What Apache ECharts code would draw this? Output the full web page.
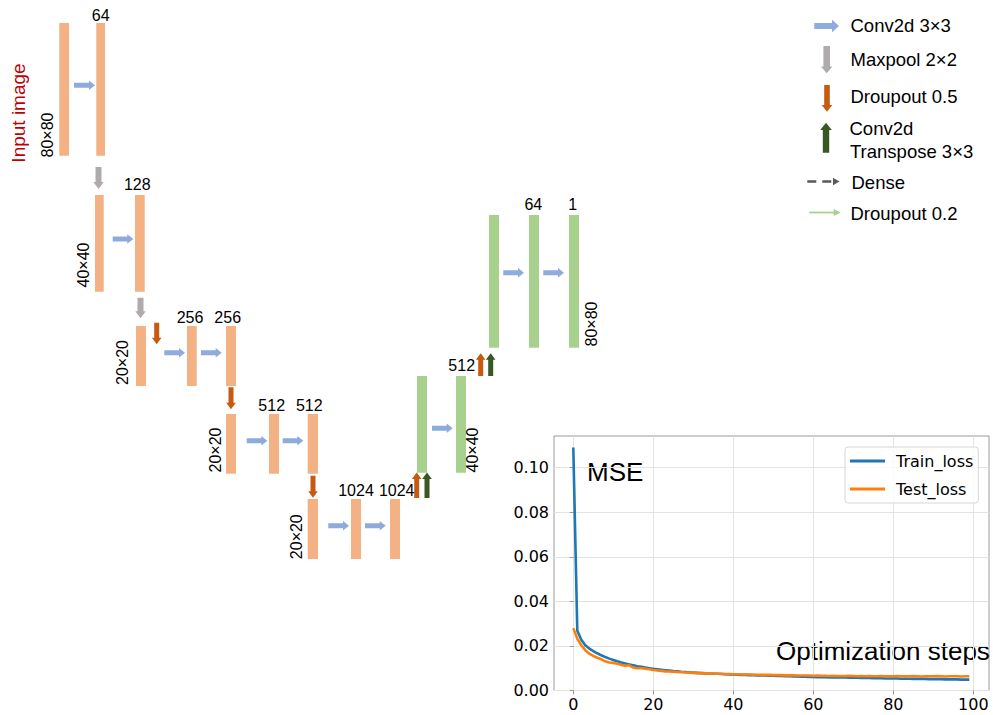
<!DOCTYPE html>
<html><head><meta charset="utf-8">
<script src="https://cdn.jsdelivr.net/npm/echarts@6/dist/echarts.min.js"></script>
<style>html,body{margin:0;padding:0;background:#fff}#c{width:993px;height:715px}</style>
</head><body><div id="c"></div>
<script>
// ---------------- loss curve data ----------------
const seriesNames = ['Train_loss', 'Test_loss'];
const trainLoss = [
0.1090,0.0268,0.0228,0.0203,0.0188,0.0177,0.0167,0.0158,0.0150,0.0143,
0.0137,0.0131,0.0126,0.0121,0.0117,0.0113,0.0109,0.0106,0.0103,0.0100,
0.0097,0.0095,0.0093,0.0091,0.0089,0.0087,0.0086,0.0084,0.0083,0.0082,
0.0080,0.0079,0.0078,0.0077,0.0076,0.0075,0.0075,0.0074,0.0073,0.0072,
0.0072,0.0071,0.0070,0.0070,0.0069,0.0069,0.0068,0.0067,0.0067,0.0066,
0.0066,0.0065,0.0065,0.0064,0.0064,0.0063,0.0063,0.0062,0.0062,0.0061,
0.0061,0.0060,0.0060,0.0060,0.0059,0.0059,0.0058,0.0058,0.0058,0.0057,
0.0057,0.0057,0.0056,0.0056,0.0056,0.0055,0.0055,0.0055,0.0054,0.0054,
0.0054,0.0054,0.0053,0.0053,0.0053,0.0052,0.0052,0.0052,0.0052,0.0051,
0.0051,0.0051,0.0051,0.0050,0.0050,0.0050,0.0050,0.0049,0.0049,0.0049];
const testLoss = [
0.0280,0.0232,0.0203,0.0181,0.0165,0.0155,0.0147,0.0140,0.0131,0.0126,
0.0124,0.0120,0.0115,0.0111,0.0113,0.0103,0.0100,0.0100,0.0098,0.0095,
0.0092,0.0090,0.0088,0.0086,0.0085,0.0084,0.0083,0.0082,0.0081,0.0080,
0.0079,0.0078,0.0078,0.0077,0.0076,0.0076,0.0075,0.0075,0.0074,0.0074,
0.0073,0.0073,0.0072,0.0072,0.0072,0.0071,0.0071,0.0070,0.0070,0.0070,
0.0069,0.0069,0.0069,0.0068,0.0068,0.0068,0.0067,0.0067,0.0067,0.0067,
0.0066,0.0067,0.0066,0.0066,0.0065,0.0066,0.0065,0.0065,0.0065,0.0066,
0.0065,0.0064,0.0065,0.0064,0.0065,0.0064,0.0064,0.0065,0.0064,0.0064,
0.0064,0.0065,0.0064,0.0064,0.0064,0.0065,0.0064,0.0063,0.0064,0.0064,
0.0064,0.0065,0.0064,0.0063,0.0064,0.0064,0.0064,0.0063,0.0064,0.0064];
const yTickValues = [0, 0.02, 0.04, 0.06, 0.08, 0.10];
const xTickValues = [0, 20, 40, 60, 80, 100];
const plotTexts = ['MSE', 'Optimization steps'];

// ---------------- network diagram data (diagram units) ----------------
// layer blocks: [x0, x1, y0, y1]
const layerBlocks = [
[59.3,69,23,155.7],[96.3,105,23,155.7],
[95,103.7,195,291.7],[135,144.7,195,291.7],
[136,146,326,386],[187,196.7,326,386],[226,236,326,386],
[226,236,414,473.7],[269,279,414,473.7],[307.7,318,414,473.7],
[307.7,318,499,559],[351,361,499,559],[390,400,499,559],
[417,427,376,472.7],[456,466,376,472.7],
[489,499,215,347.7],[529,539,215,347.7],[569,579,215,347.7]];
const layerKinds = ['enc','enc','enc','enc','enc','enc','enc','enc','enc','enc','enc','enc','enc',
'dec','dec','dec','dec','dec'];
// operation arrows: [x0,y0,x1,y1] tail -> tip
const opArrows = [
[74,85.3,95,85.3],[112.7,239,133.3,239],[164.3,352.7,185,352.7],[201,352.7,221.7,352.7],
[246.7,440.7,267.3,440.7],[282.7,440.7,303.3,440.7],[328.3,525.7,349,525.7],[365,525.7,385.7,525.7],
[432,428.3,452.7,428.3],[503.3,272.7,524,272.7],[543.3,272.7,564,272.7],
[98.5,167,98.5,189],[140.5,297.7,140.5,318.3],
[156.7,322.7,156.7,344.3],[231,387.3,231,409.3],[313,475.7,313,497.7],
[416.7,498,416.7,472.5],[480.7,376,480.7,353.3],
[427,498,427,472.5],[490.7,376,490.7,353.3]];
const opArrowKinds = ['conv','conv','conv','conv','conv','conv','conv','conv','conv','conv','conv',
'pool','pool','drop','drop','drop','drop','drop','trans','trans'];
const channelLabels = ['64','128','256','256','512','512','1024','1024','512','64','1'];
const channelLabelPos = [[100.7,15.3],[137.3,184.3],[190,317.2],[227.7,317.2],[271.7,405.5],[309.3,405.5],
[356,490.8],[396.7,490.8],[461.7,365.8],[533.3,204.2],[572.7,204.2]];
const sizeLabels = ['80×80','40×40','20×20','20×20','20×20','40×40','80×80'];
const sizeLabelPos = [[47.7,135],[83.3,265],[122.3,362.5],[215,450],[296.7,536.7],[472.8,450],[591.3,324]];
const inputLabel = ['Input image'];
const inputLabelPos = [[18.3,113]];
// key
const keyArrows = [[814.3,26,839,26],[826.7,46,826.7,73.3],[827,85,827,111.7],[826,152.7,826,122.7],
[807.3,181.5,839.5,181.5],[809.3,212.5,840.7,212.5]];
const keyArrowKinds = ['conv','pool','drop','trans','dense','drop2'];
const keyTexts = ['Conv2d 3×3','Maxpool 2×2','Droupout 0.5','Conv2d','Transpose 3×3','Dense','Droupout 0.2'];
const keyTextPos = [[850.5,25],[850.5,59.7],[850.5,96.7],[849.5,128.3],[850,151.7],[851.5,182],[850.5,213.3]];

// ---------------- styles ----------------
const COL = {enc:'#F4B183', dec:'#A9D18E', conv:'#8FAADC', pool:'#AFABAB', drop:'#C55A11', trans:'#385723',
  dense:'#595959', drop2:'#A9D18E'};
const ARROW_SMALL = {conv:[2.5,4.8,6], pool:[3,5.2,7], drop:[2.5,4.8,6.5], trans:[2.5,4.8,6.5]};
const ARROW_KEY = {conv:[3,6.3,7], pool:[3.3,5.7,6.7], drop:[2.8,5.3,6.7], trans:[3.2,5.8,7.3]};
const DIAG_FONT = '"Liberation Sans", Arial, sans-serif';
const PLOT_FONT = '"DejaVu Sans", sans-serif';

function arrowPoints(p0, p1, s, h, L) {
  const dx = p1[0]-p0[0], dy = p1[1]-p0[1];
  const len = Math.sqrt(dx*dx+dy*dy);
  const ux = dx/len, uy = dy/len, nx = -uy, ny = ux;
  const kx = p1[0]-ux*L, ky = p1[1]-uy*L;
  return [[p0[0]+nx*s,p0[1]+ny*s],[kx+nx*s,ky+ny*s],[kx+nx*h,ky+ny*h],[p1[0],p1[1]],
    [kx-nx*h,ky-ny*h],[kx-nx*s,ky-ny*s],[p0[0]-nx*s,p0[1]-ny*s]];
}
function arrowRender(kinds, sizes) {
  return function(params, api) {
    const k = kinds[params.dataIndex];
    const p0 = api.coord([api.value(0), api.value(1)]);
    const p1 = api.coord([api.value(2), api.value(3)]);
    if (k === 'dense') {
      const hx = p1[0]-6.5;
      return {type:'group', children:[
        {type:'line', shape:{x1:p0[0],y1:p0[1],x2:hx,y2:p1[1]}, style:{stroke:COL.dense, lineWidth:2.6, lineDash:[9,6]}},
        {type:'polygon', shape:{points:[[hx,p1[1]-3.8],[p1[0],p1[1]],[hx,p1[1]+3.8]]}, style:{fill:COL.dense}}]};
    }
    if (k === 'drop2') {
      const hx = p1[0]-7;
      return {type:'group', children:[
        {type:'line', shape:{x1:p0[0],y1:p0[1],x2:hx+1,y2:p1[1]}, style:{stroke:COL.drop2, lineWidth:1.8}},
        {type:'polygon', shape:{points:[[hx,p1[1]-3.5],[p1[0],p1[1]],[hx,p1[1]+3.5]]}, style:{fill:COL.drop2}}]};
    }
    const sz = sizes[k];
    return {type:'polygon', shape:{points:arrowPoints(p0,p1,sz[0],sz[1],sz[2])}, style:{fill:COL[k]}};
  };
}
function textRender(texts, opts) {
  return function(params, api) {
    const p = api.coord([api.value(0), api.value(1)]);
    return {type:'text', x:p[0], y:p[1], rotation: opts.rotation || 0,
      style:{text: texts[params.dataIndex], fontSize: opts.size, fontFamily: DIAG_FONT, fill: opts.color || '#000',
        align: opts.align || 'center', verticalAlign:'middle', lineHeight: opts.size}};
  };
}
const diag = {type:'custom', coordinateSystem:'cartesian2d', xAxisIndex:2, yAxisIndex:2, clip:false, silent:true, animation:false};

const chart = echarts.init(document.getElementById('c'), null, {renderer:'svg'});
const option = {
  animation:false,
  backgroundColor:'#fff',
  grid:[
    {left:554, top:436, width:435, height:254.5, show:true, borderColor:'#9a9a9a', borderWidth:1, backgroundColor:'transparent', containLabel:false, outerBoundsMode:'none'},
    {left:573.3, top:436, width:400, height:254.5, containLabel:false, outerBoundsMode:'none'},
    {left:0, top:0, width:993, height:715, containLabel:false, outerBoundsMode:'none'}
  ],
  xAxis:[
    {gridIndex:0, type:'value', min:-4.95, max:103.95, show:false},
    {gridIndex:1, type:'value', min:0, max:100, interval:20,
      axisLine:{show:false}, axisTick:{show:true, length:4, lineStyle:{color:'#9a9a9a'}},
      axisLabel:{fontFamily:PLOT_FONT, fontSize:16, color:'#000', margin:6, customValues:xTickValues},
      splitLine:{show:true, lineStyle:{color:'#e3e3e3', width:1}}},
    {gridIndex:2, type:'value', min:0, max:993, show:false}
  ],
  yAxis:[
    {gridIndex:0, type:'value', min:0, max:0.1142, interval:0.02,
      axisLine:{show:false}, axisTick:{show:true, length:4, lineStyle:{color:'#9a9a9a'}, customValues:yTickValues},
      axisLabel:{fontFamily:PLOT_FONT, fontSize:16, color:'#000', margin:5,
        customValues:yTickValues, formatter:v=>v.toFixed(2)},
      splitLine:{show:true, lineStyle:{color:'#e3e3e3', width:1}}},
    {gridIndex:1, type:'value', min:0, max:0.1142, show:false},
    {gridIndex:2, type:'value', min:0, max:715, inverse:true, show:false}
  ],
  legend:{
    data:seriesNames, orient:'vertical', left:845, top:447, padding:[6,5,6,5], itemGap:12,
    itemWidth:35, itemHeight:3, icon:'rect',
    backgroundColor:'rgba(255,255,255,0.8)', borderColor:'#d6d6d6', borderWidth:1, borderRadius:3,
    textStyle:{fontFamily:PLOT_FONT, fontSize:16, color:'#000', padding:[0,0,0,6]}
  },
  graphic:[
    {type:'text', left:587, top:459, style:{text:plotTexts[0], fontFamily:DIAG_FONT, fontSize:26, fill:'#000'}},
    {type:'text', left:776, top:638, style:{text:plotTexts[1], fontFamily:DIAG_FONT, fontSize:26, fill:'#000'}}
  ],
  series:[
    {name:seriesNames[0], type:'line', xAxisIndex:1, yAxisIndex:1, showSymbol:false, symbol:'none',
      data: trainLoss.map((v,i)=>[i,v]), lineStyle:{color:'#1f77b4', width:2.6}, itemStyle:{color:'#1f77b4'}, clip:false},
    {name:seriesNames[1], type:'line', xAxisIndex:1, yAxisIndex:1, showSymbol:false, symbol:'none',
      data: testLoss.map((v,i)=>[i,v]), lineStyle:{color:'#ff7f0e', width:2.6}, itemStyle:{color:'#ff7f0e'}, clip:false},
    Object.assign({}, diag, {data: layerBlocks, renderItem:(params, api)=>{
      const p0 = api.coord([api.value(0), api.value(2)]);
      const p1 = api.coord([api.value(1), api.value(3)]);
      return {type:'rect', shape:{x:p0[0], y:p0[1], width:p1[0]-p0[0], height:p1[1]-p0[1]},
        style:{fill: COL[layerKinds[params.dataIndex]]}};
    }}),
    Object.assign({}, diag, {data: opArrows, renderItem: arrowRender(opArrowKinds, ARROW_SMALL)}),
    Object.assign({}, diag, {data: keyArrows, renderItem: arrowRender(keyArrowKinds, ARROW_KEY)}),
    Object.assign({}, diag, {data: channelLabelPos, renderItem: textRender(channelLabels, {size:16})}),
    Object.assign({}, diag, {data: sizeLabelPos, renderItem: textRender(sizeLabels, {size:16, rotation:Math.PI/2})}),
    Object.assign({}, diag, {data: inputLabelPos, renderItem: textRender(inputLabel, {size:19, rotation:Math.PI/2, color:'#C00000'})}),
    Object.assign({}, diag, {data: keyTextPos, renderItem: textRender(keyTexts, {size:18.5, align:'left'})})
  ]
};
chart.setOption(option);
</script></body></html>
